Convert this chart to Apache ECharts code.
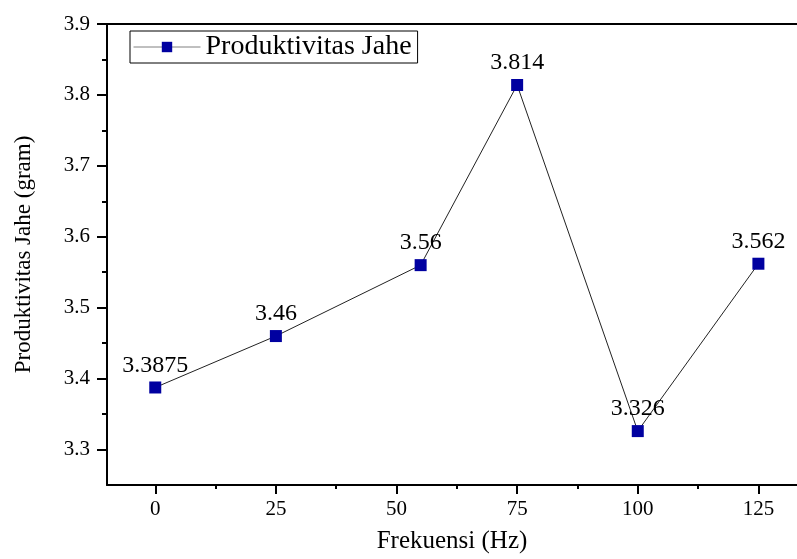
<!DOCTYPE html>
<html>
<head>
<meta charset="utf-8">
<script src="https://cdn.jsdelivr.net/npm/echarts@6/dist/echarts.min.js"></script>
<style>html,body{margin:0;padding:0;background:#fff}#c{width:797px;height:559px}</style>
</head>
<body>
<div id="c"></div>
<script>
// Data
const frekuensi = [0, 25, 55, 75, 100, 125];
const produktivitas = [3.3875, 3.46, 3.56, 3.814, 3.326, 3.562];
const labelText = ['3.3875', '3.46', '3.56', '3.814', '3.326', '3.562'];
const xMajorTicks = [0, 25, 50, 75, 100, 125];
const xMinorTicks = [12.5, 37.5, 62.5, 87.5, 112.5];
const yMajorTicks = [3.3, 3.4, 3.5, 3.6, 3.7, 3.8, 3.9];
const yMinorTicks = [3.35, 3.45, 3.55, 3.65, 3.75, 3.85];
const seriesName = 'Produktivitas Jahe';
const xTitle = 'Frekuensi (Hz)';
const yTitle = 'Produktivitas Jahe (gram)';

const FONT = '"Liberation Serif", "Times New Roman", serif';
const X_MIN = -10, X_MAX = 133, Y_MIN = 3.25, Y_MAX = 3.9;
const axisLine = { show: true, onZero: false, lineStyle: { color: '#000', width: 2 } };
const noLine = { show: false, onZero: false };

const chart = echarts.init(document.getElementById('c'), null, { renderer: 'canvas' });
chart.setOption({
  animation: false,
  backgroundColor: '#fff',
  grid: { left: 107, right: 0, top: 24, bottom: 73, containLabel: false },
  legend: {
    left: 130, top: 31,
    orient: 'horizontal',
    data: [seriesName],
    itemWidth: 67, itemHeight: 13,
    itemGap: 6,
    padding: [2, 6, 2, 3],
    borderColor: '#000', borderWidth: 1,
    backgroundColor: '#fff',
    lineStyle: { color: '#808080', width: 1 },
    textStyle: { fontFamily: FONT, fontSize: 28, color: '#000' }
  },
  xAxis: [
    {
      type: 'value', min: X_MIN, max: X_MAX, position: 'bottom',
      name: xTitle, nameLocation: 'middle', nameGap: 44,
      nameTextStyle: { fontFamily: FONT, fontSize: 25, color: '#000' },
      axisLine: axisLine,
      axisTick: { show: true, inside: false, length: 9, customValues: xMajorTicks, lineStyle: { color: '#000', width: 2 } },
      axisLabel: { show: true, customValues: xMajorTicks, margin: 14, fontFamily: FONT, fontSize: 21, color: '#000' },
      splitLine: { show: false }
    },
    {
      type: 'value', min: X_MIN, max: X_MAX, position: 'bottom',
      axisLine: noLine,
      axisTick: { show: true, inside: false, length: 4, customValues: xMinorTicks, lineStyle: { color: '#000', width: 2 } },
      axisLabel: { show: false },
      splitLine: { show: false }
    },
    {
      type: 'value', min: X_MIN, max: X_MAX, position: 'top',
      axisLine: axisLine,
      axisTick: { show: false },
      axisLabel: { show: false },
      splitLine: { show: false }
    }
  ],
  yAxis: [
    {
      type: 'value', min: Y_MIN, max: Y_MAX, position: 'left',
      name: yTitle, nameLocation: 'middle', nameGap: 72, nameRotate: 90,
      nameTextStyle: { fontFamily: FONT, fontSize: 23, color: '#000' },
      axisLine: axisLine,
      axisTick: { show: true, inside: false, length: 10, customValues: yMajorTicks, lineStyle: { color: '#000', width: 2 } },
      axisLabel: { show: true, customValues: yMajorTicks, margin: 17, fontFamily: FONT, fontSize: 21, color: '#000',
        formatter: v => v.toFixed(1) },
      splitLine: { show: false }
    },
    {
      type: 'value', min: Y_MIN, max: Y_MAX, position: 'left',
      axisLine: noLine,
      axisTick: { show: true, inside: false, length: 5, customValues: yMinorTicks, lineStyle: { color: '#000', width: 2 } },
      axisLabel: { show: false },
      splitLine: { show: false }
    }
  ],
  series: [{
    name: seriesName,
    type: 'line',
    xAxisIndex: 0, yAxisIndex: 0,
    data: frekuensi.map((x, i) => [x, produktivitas[i]]),
    symbol: 'rect', symbolSize: 12,
    itemStyle: { color: '#0000a0' },
    lineStyle: { color: '#222', width: 1 },
    label: {
      show: true, position: 'top', distance: 4,
      formatter: p => labelText[p.dataIndex],
      fontFamily: FONT, fontSize: 24, color: '#000'
    },
    z: 3
  }]
});
</script>
</body>
</html>
